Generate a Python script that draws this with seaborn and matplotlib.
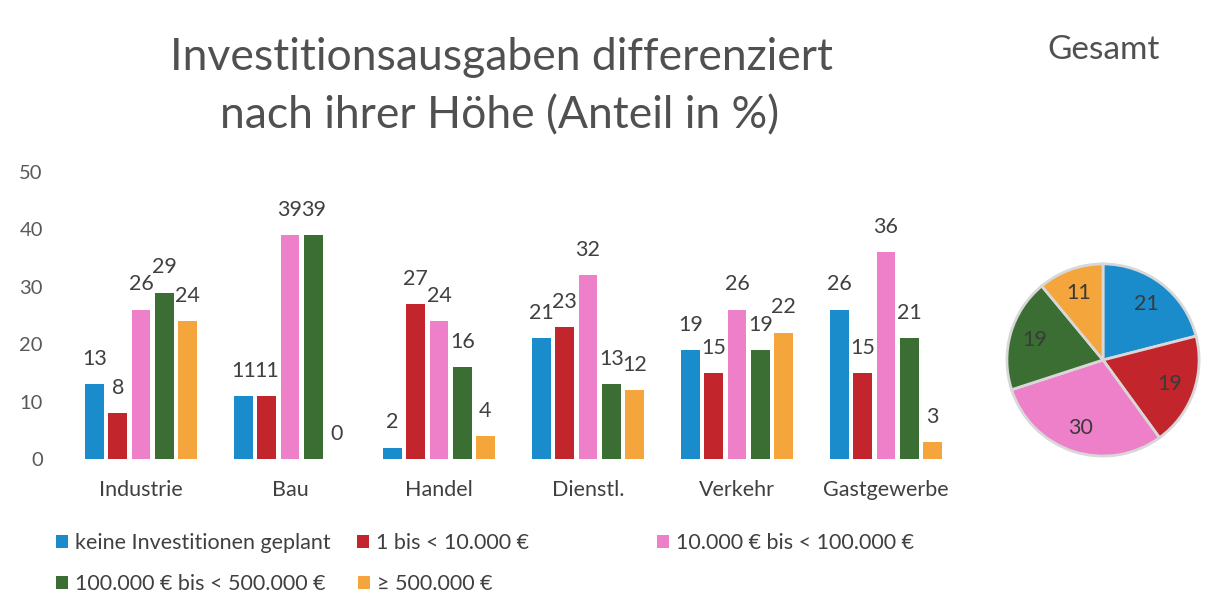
import matplotlib
matplotlib.use("Agg")
import matplotlib.pyplot as plt
import seaborn as sns
import pandas as pd

categories = ["Industrie", "Bau", "Handel", "Dienstl.", "Verkehr", "Gastgewerbe"]
series = ["keine Investitionen geplant", "1 bis < 10.000 €", "10.000 € bis < 100.000 €",
          "100.000 € bis < 500.000 €", "≥ 500.000 €"]
keine = [13, 11, 2, 21, 19, 26]
bis10k = [8, 11, 27, 23, 15, 15]
bis100k = [26, 39, 24, 32, 26, 36]
bis500k = [29, 39, 16, 13, 19, 21]
ab500k = [24, 0, 4, 12, 22, 3]
gesamt = [21, 19, 30, 19, 11]
yticks = [0, 10, 20, 30, 40, 50]

colors = ["#1b8ccb", "#c3252d", "#ee7fc9", "#3b6e32", "#f4a53b"]

sns.set_theme(style="white")
plt.rcParams["font.family"] = ["Lato", "DejaVu Sans"]

rows = []
for s, vals in zip(series, [keine, bis10k, bis100k, bis500k, ab500k]):
    for c, v in zip(categories, vals):
        rows.append({"Branche": c, "Serie": s, "Wert": v})
df = pd.DataFrame(rows)

fig = plt.figure(figsize=(12.05, 5.98), dpi=100)
fig.patch.set_facecolor("white")

ax = fig.add_axes([66.5 / 1205, 1 - 459 / 598, 894 / 1205, (459 - 172) / 598])
sns.barplot(data=df, x="Branche", y="Wert", hue="Serie", order=categories,
            hue_order=series, palette=colors, width=0.78, gap=0.2,
            saturation=1, ax=ax, linewidth=0)
ax.set_xlim(-0.5, 5.5)
ax.set_ylim(0, 50)
ax.set_yticks(yticks)
ax.set_xlabel("")
ax.set_ylabel("")
for sp in ax.spines.values():
    sp.set_visible(False)
ax.tick_params(axis="y", length=0, pad=17, labelsize=14.5, labelcolor="#595959")
ax.tick_params(axis="x", length=0, pad=15, labelsize=15.5, labelcolor="#404040")
ax.set_facecolor("white")

for cont in ax.containers:
    ax.bar_label(cont, labels=[f"{v:.0f}" for v in cont.datavalues],
                 padding=11, fontsize=15.5, color="#404040")

handles, labels = ax.get_legend_handles_labels()
ax.get_legend().remove()

leg_pos = [(56, 543), (357, 543), (657, 543), (56, 584), (358, 584)]
for h, l, (px, py) in zip(handles, labels, leg_pos):
    fig.legend(handles=[h], labels=[l], loc="center left",
               bbox_to_anchor=(px / 1205, 1 - py / 598), frameon=False,
               borderpad=0, borderaxespad=0, handletextpad=0.35,
               handlelength=0.55, handleheight=0.55, fontsize=15.5,
               labelcolor="#404040")

fig.text(501 / 1205, 1 - 57 / 598, "Investitionsausgaben differenziert",
         ha="center", va="center", fontsize=32, color="#505050")
fig.text(500 / 1205, 1 - 116 / 598, "nach ihrer Höhe (Anteil in %)",
         ha="center", va="center", fontsize=32, color="#505050")
fig.text(1104 / 1205, 1 - 50 / 598, "Gesamt", ha="center", va="center",
         fontsize=24, color="#505050")

pax = fig.add_axes([1003 / 1205, 1 - 458 / 598, 200 / 1205, 196 / 598])
pax.pie(gesamt, colors=colors, startangle=90, counterclock=False,
        autopct=lambda p: f"{p:.0f}", pctdistance=0.74,
        wedgeprops=dict(edgecolor="#d8d8d8", linewidth=2),
        textprops=dict(fontsize=15.5, color="#3a3a3a"))
pax.set_xlim(-1.02, 1.02)
pax.set_ylim(-1.02, 1.02)
pax.set_aspect("equal")

fig.savefig("out.png", dpi=100, facecolor="white")
